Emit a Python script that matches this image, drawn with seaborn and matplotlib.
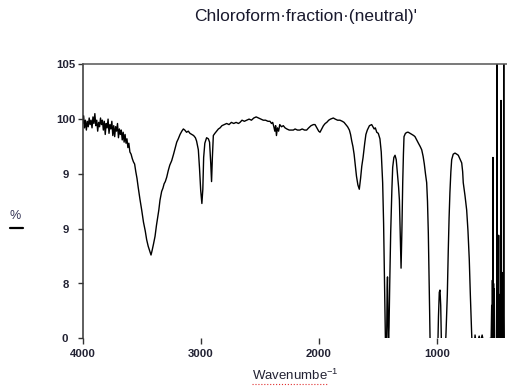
import numpy as np
import pandas as pd
import matplotlib
matplotlib.use("Agg")
import matplotlib.pyplot as plt
from matplotlib.lines import Line2D
import seaborn as sns

# ---- data ----
wavenumber = [
    4000, 3992, 3985, 3977, 3969, 3961, 3953, 3945, 3937, 3929, 3921, 3913, 3905, 3897, 3889,
    3881, 3873, 3865, 3857, 3849, 3841, 3833, 3825, 3817, 3809, 3801, 3793, 3785, 3777, 3769,
    3761, 3753, 3745, 3737, 3729, 3721, 3713, 3705, 3697, 3689, 3681, 3673, 3665, 3657, 3649,
    3641, 3633, 3625, 3617, 3609, 3600, 3590, 3580, 3570, 3560, 3550, 3540, 3530, 3515, 3500,
    3485, 3470, 3458, 3445, 3430, 3421, 3412, 3400, 3387, 3375, 3365, 3355, 3345, 3331, 3320,
    3310, 3300, 3288, 3275, 3262, 3246, 3230, 3215, 3203, 3190, 3175, 3160, 3147, 3135, 3120,
    3105, 3091, 3075, 3060, 3045, 3035, 3020, 3010, 3000, 2990, 2982, 2975, 2965, 2950, 2935,
    2925, 2915, 2908, 2901, 2893, 2880, 2865, 2850, 2836, 2820, 2800, 2780, 2760, 2740, 2720,
    2700, 2680, 2667, 2650, 2630, 2610, 2590, 2570, 2550, 2530, 2510, 2490, 2470, 2450, 2430,
    2413, 2400, 2390, 2380, 2372, 2365, 2358, 2350, 2340, 2330, 2315, 2300, 2285, 2270, 2250,
    2230, 2215, 2200, 2180, 2160, 2140, 2120, 2102, 2085, 2065, 2045, 2031, 2015, 2000, 1989,
    1975, 1960, 1945, 1932, 1915, 1900, 1876, 1860, 1840, 1820, 1800, 1785, 1770, 1755, 1740,
    1730, 1720, 1710, 1700, 1690, 1680, 1668, 1656, 1645, 1635, 1624, 1610, 1600, 1588, 1570,
    1551, 1540, 1530, 1520, 1508, 1495, 1481, 1470, 1458, 1450, 1444, 1438, 1432, 1425, 1420,
    1417, 1413, 1408, 1404, 1398, 1390, 1380, 1373, 1363, 1353, 1343, 1336, 1331, 1323, 1316,
    1309, 1302, 1295, 1288, 1282, 1277, 1265, 1250, 1241, 1225, 1210, 1195, 1184, 1170, 1155,
    1140, 1127, 1115, 1105, 1095, 1085, 1078, 1071, 1065, 1060, 1055, 1040, 1020, 1000, 990,
    985, 978, 972, 966, 960, 950, 935, 925, 921, 910, 902, 895, 888, 880, 873,
    860, 845, 830, 817, 800, 788, 780, 775, 760, 746, 735, 724, 715, 704, 695,
    680, 675, 665, 650, 640, 630, 615, 600, 580, 565, 548, 540, 534, 531, 528,
    525, 523, 521, 518, 515, 512, 509, 500, 492, 489, 486, 480, 477, 475, 473,
    470, 467, 460, 457, 455, 452, 449, 446, 443, 440, 437, 434, 432, 430, 420,
    404,
]
transmittance = [
    99.6, 100.3, 99.2, 99.9, 99.0, 99.8, 99.3, 100.1, 99.5, 99.9, 99.2, 100.2, 99.6, 100.5, 99.4,
    99.9, 98.9, 99.7, 99.3, 100.1, 99.5, 99.9, 99.0, 99.8, 98.6, 99.6, 99.2, 100.0, 98.7, 99.5,
    99.1, 99.8, 98.5, 99.4, 98.4, 99.3, 98.9, 99.6, 98.3, 99.1, 98.6, 99.0, 98.1, 98.8, 97.9,
    98.6, 97.8, 98.2, 97.4, 97.8, 97.0, 96.8, 96.4, 96.1, 95.9, 95.2, 94.6, 93.8, 92.7, 91.7,
    90.6, 89.8, 89.0, 88.4, 87.9, 87.6, 88.0, 88.6, 89.3, 90.3, 91.0, 91.7, 92.6, 93.4, 93.7,
    94.1, 94.3, 94.7, 95.3, 95.8, 96.2, 96.8, 97.4, 97.9, 98.2, 98.6, 98.9, 99.1, 99.0, 98.8,
    98.9, 98.7, 98.6, 98.5, 98.3, 98.0, 97.2, 95.5, 93.5, 92.3, 93.6, 96.5, 97.8, 98.3, 98.2,
    97.9, 96.0, 94.3, 96.5, 98.5, 98.7, 98.9, 99.1, 99.2, 99.4, 99.5, 99.6, 99.5, 99.7, 99.6,
    99.7, 99.6, 99.7, 99.9, 99.8, 99.9, 100.0, 99.9, 100.1, 100.2, 100.1, 100.0, 99.9, 99.9, 99.8,
    99.8, 99.6, 99.7, 99.3, 98.9, 99.4, 98.5, 99.2, 98.9, 99.5, 99.3, 99.4, 99.2, 99.1, 99.0,
    99.0, 99.0, 99.1, 99.0, 99.0, 99.1, 99.0, 99.0, 99.2, 99.4, 99.5, 99.5, 99.2, 98.9, 98.8,
    99.1, 99.4, 99.6, 99.7, 99.9, 100.0, 100.1, 100.0, 99.9, 99.9, 99.8, 99.7, 99.5, 99.3, 99.0,
    98.6, 98.0, 97.5, 96.8, 95.8, 94.8, 94.0, 93.6, 94.6, 95.7, 96.5, 97.8, 98.6, 99.0, 99.4,
    99.5, 99.3, 99.1, 99.2, 98.8, 98.7, 98.2, 97.0, 94.2, 90.5, 86.5, 82.0, 78.0, 79.0, 84.5,
    85.6, 82.0, 79.5, 81.0, 85.0, 89.6, 93.5, 95.6, 96.5, 96.7, 96.3, 95.4, 94.7, 93.8, 92.6,
    89.5, 86.4, 89.8, 94.2, 96.8, 98.4, 98.7, 98.8, 98.8, 98.7, 98.6, 98.5, 98.4, 98.1, 97.8,
    97.5, 97.2, 96.6, 95.9, 95.0, 94.2, 92.5, 89.6, 86.0, 82.5, 79.0, 75.0, 75.0, 76.0, 79.5,
    82.0, 84.2, 84.4, 83.0, 79.5, 76.0, 77.0, 79.5, 80.5, 84.0, 88.0, 91.0, 93.3, 95.2, 96.3,
    96.8, 96.9, 96.8, 96.7, 96.3, 96.0, 95.2, 94.2, 93.0, 91.7, 89.8, 87.2, 84.0, 80.5, 78.0,
    79.5, 80.3, 79.5, 79.8, 80.2, 79.6, 80.3, 79.5, 79.0, 79.5, 80.0, 79.0, 83.0, 79.0, 85.3,
    79.0, 96.5, 79.0, 85.0, 79.0, 84.5, 79.0, 79.5, 79.0, 107.0, 79.0, 79.5, 84.0, 89.4, 79.0,
    84.0, 79.0, 79.5, 79.0, 101.7, 79.0, 85.5, 79.0, 86.0, 79.0, 85.0, 79.0, 107.0, 79.0, 79.0,
    79.0,
]
y_ticks = [80, 85, 90, 95, 100, 105]
y_ticklabels = ["0\u2007", "8\u2007", "9\u2007", "9\u2007", "100", "105"]
x_ticks = [4000, 3000, 2000, 1000]
x_ticklabels = ["4000", "3000", "2000", "1000"]
title = "Chloroform\u00b7fraction\u00b7(neutral)'"
xlabel = "Wavenumbe$^{-1}$"
ylabel = "%"

df = pd.DataFrame({"wn": wavenumber, "T": transmittance})

sns.set_theme(style="white")
plt.rcParams["font.family"] = ["Liberation Sans", "DejaVu Sans"]
plt.rcParams["mathtext.fontset"] = "custom"
plt.rcParams["mathtext.rm"] = "Liberation Sans"
plt.rcParams["mathtext.it"] = "Liberation Sans:italic"
plt.rcParams["mathtext.bf"] = "Liberation Sans:bold"

W, H = 507, 387
fig = plt.figure(figsize=(W / 100, H / 100), dpi=100)
ax = fig.add_axes([82.7 / W, 1 - 338.3 / H, (507.5 - 82.7) / W, (338.3 - 64.3) / H])

sns.lineplot(data=df, x="wn", y="T", ax=ax, color="black", linewidth=1.0,
             sort=False, estimator=None)

ax.set_xlim(4000, 400)
ax.set_ylim(80, 105)
ax.set_xticks(x_ticks)
ax.set_xticklabels(x_ticklabels, fontsize=8.2, fontweight="bold", color="#222233")
ax.set_yticks(y_ticks)
ax.set_yticklabels(y_ticklabels, fontsize=8.2, fontweight="bold", color="#222233")
ax.set_xlabel("")
ax.set_ylabel("")
ax.tick_params(axis="y", direction="out", length=3.3, width=1.0, pad=2.0, color="#333333", left=True)
ax.tick_params(axis="x", direction="out", length=4, width=1.0, pad=4, color="#333333", bottom=True)

for side in ["right", "bottom"]:
    ax.spines[side].set_visible(False)
ax.spines["left"].set_color("#333333")
ax.spines["left"].set_linewidth(1.1)
ax.spines["top"].set_color("#555555")
ax.spines["top"].set_linewidth(1.1)
ax.set_facecolor("white")
ax.grid(False)

fig.text(306 / W, 1 - 17 / H, title, ha="center", va="center", fontsize=12.5, color="#1a1a2e")
fig.text(295 / W, 1 - 375 / H, xlabel, ha="center", va="center", fontsize=9.5, color="#222233")
fig.text(15 / W, 1 - 216 / H, ylabel, ha="center", va="center", fontsize=9, color="#333355")
fig.add_artist(Line2D([10 / W, 23 / W], [1 - 228 / H, 1 - 228 / H], transform=fig.transFigure,
                      color="black", linewidth=1.6))
fig.add_artist(Line2D([252 / W, 327 / W], [1 - 384 / H, 1 - 384 / H], transform=fig.transFigure,
                      color="#e03030", linewidth=0.8, linestyle=":"))

fig.savefig("out.png", dpi=100, facecolor="white")
